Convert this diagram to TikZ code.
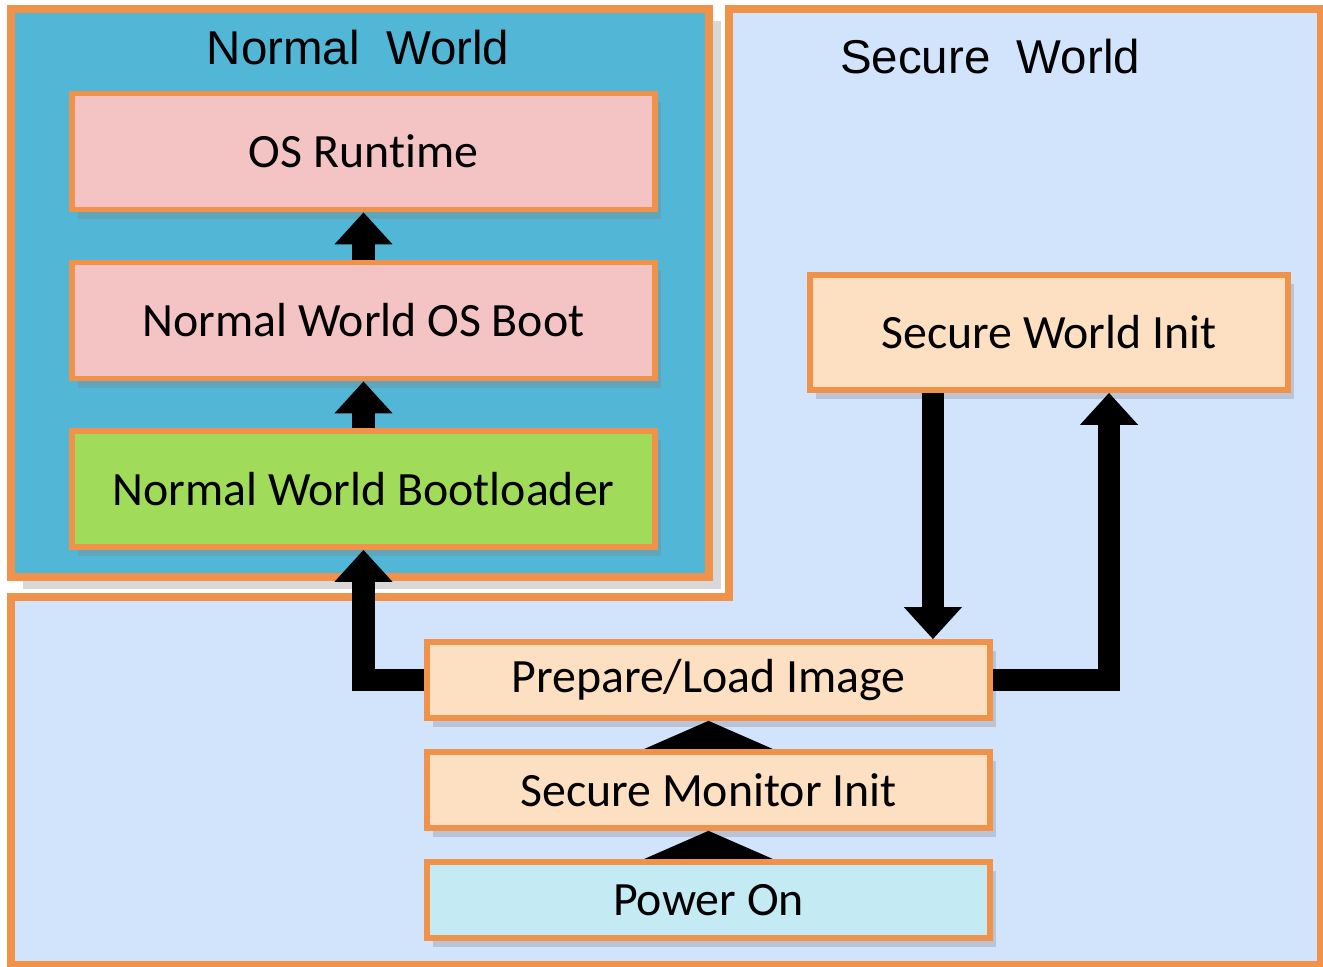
\documentclass[tikz,border=0pt]{standalone}
\usepackage{fontspec}
\setmainfont{Carlito}[Ligatures=NoCommon]
\newfontfamily\titlefont{Liberation Sans}
\usetikzlibrary{arrows.meta,shadows}

\definecolor{nwteal}{HTML}{52B6D6}
\definecolor{swblue}{HTML}{D2E4FC}
\definecolor{boxpink}{HTML}{F4C4C5}
\definecolor{boxgreen}{HTML}{A0DC5A}
\definecolor{boxpeach}{HTML}{FDDFC1}
\definecolor{boxcyan}{HTML}{C4EAF4}
\definecolor{rimorange}{HTML}{F0924A}

\begin{document}
\begin{tikzpicture}[x=0.01cm,y=-0.01cm,line join=miter,
    box/.style={draw=rimorange,line width=1.6pt,inner sep=0pt,
      font=\fontsize{13.6}{16}\selectfont,
      drop shadow={shadow xshift=0.6mm,shadow yshift=-0.9mm,opacity=0.3}},
    bigbox/.style={box,minimum width=5.83cm,minimum height=1.16cm},
    flatbox/.style={box,minimum width=5.63cm,minimum height=0.76cm},
    title/.style={font=\titlefont\fontsize{13.5}{16}\selectfont},
    uparrow/.style={line width=0.22cm,-{Triangle[width=0.56cm,length=0.32cm]}},
    widearrow/.style={line width=0.48cm,-{Triangle[width=1.27cm,length=0.28cm]}}]
 \useasboundingbox (0,0) rectangle (1323,967);
 \fill[white] (0,0) rectangle (1323,967);
 % secure world (L shape) and normal world
 \draw[rimorange,line width=2pt,fill=swblue,
   drop shadow={shadow xshift=0.6mm,shadow yshift=-0.6mm,opacity=0.25}]
   (729,9) -- (1321,9) -- (1321,965) -- (11,965) -- (11,597) -- (729,597) -- cycle;
 \draw[rimorange,line width=2pt,fill=nwteal,
   drop shadow={shadow xshift=1.2mm,shadow yshift=-1.2mm,opacity=0.3}]
   (11,9) rectangle (709,577);
 \node[title] (nwtitle) at (358,48) {Normal\ \ World};
 \node[title] (swtitle) at (990,57) {Secure\ \ World};
 % boxes
 \node[bigbox,fill=boxpink] (osrt) at (363.5,151.5) {OS Runtime};
 \node[bigbox,fill=boxpink] (nwos) at (363.5,320.5) {Normal World OS Boot};
 \node[bigbox,fill=boxgreen] (nwbl) at (363.5,489) {Normal World Bootloader};
 \node[box,fill=boxpeach,minimum width=4.78cm,minimum height=1.15cm] (swinit) at (1049,332.5) {Secure World Init};
 \node[flatbox,fill=boxpeach] (prep) at (708.5,680) {Prepare/Load Image};
 \node[flatbox,fill=boxpeach] (smon) at (708.5,790) {Secure Monitor Init};
 \node[flatbox,fill=boxcyan] (pwr) at (708.5,900) {Power On};
 % arrows
 \draw[uparrow] (nwos.north) -- (osrt.south);
 \draw[uparrow] (nwbl.north) -- (nwos.south);
 \draw[uparrow] (prep.west) -| (nwbl.south);
 \draw[uparrow] ([xshift=-1.16cm]swinit.south) -- ([xshift=-1.16cm]swinit.south |- prep.north);
 \draw[uparrow] (prep.east) -| ([xshift=0.6cm]swinit.south);
 \draw[widearrow] (smon.north) -- (prep.south);
 \draw[widearrow] (pwr.north) -- (smon.south);
\end{tikzpicture}
\end{document}
